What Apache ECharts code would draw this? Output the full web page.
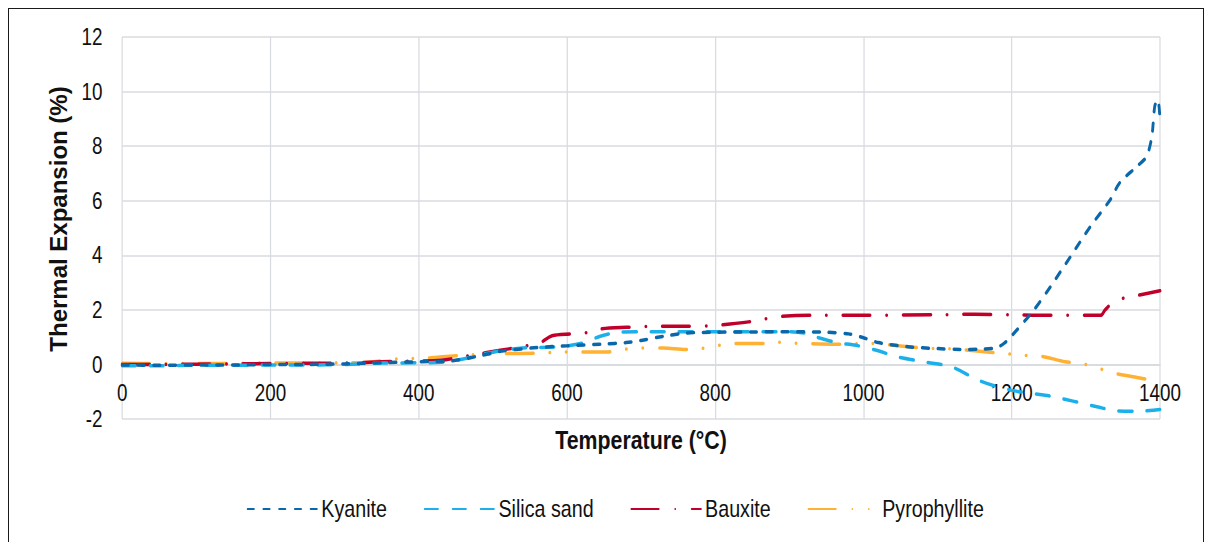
<!DOCTYPE html>
<html>
<head>
<meta charset="utf-8">
<script src="https://cdn.jsdelivr.net/npm/echarts@6/dist/echarts.min.js"></script>
<style>
  html, body { margin: 0; padding: 0; background: #fff; }
  #wrap { position: relative; width: 1210px; height: 542px; overflow: hidden; }
  #frame { position: absolute; left: 8px; top: 8px; width: 1196px; height: 560px;
           border: 1.5px solid #1a1a1a; box-sizing: border-box; }
  /* the chart is laid out wide and condensed horizontally, giving narrow lettering */
  #chart { position: absolute; left: 0; top: 0; width: 1476px; height: 542px;
           transform: scaleX(0.81978); transform-origin: 0 0; }
</style>
</head>
<body>
<div id="wrap">
  <div id="frame"></div>
  <div id="chart"></div>
</div>
<script>
// Temperature (°C) vs. thermal expansion (%) for four refractory raw materials
const seriesNames = ['Kyanite', 'Silica sand', 'Bauxite', 'Pyrophyllite'];

const kyanite = [
  [0,-0.02],[50,-0.03],[100,-0.02],[150,-0.02],[200,0],[250,0],[300,0.02],[350,0.06],
  [400,0.1],[440,0.12],[480,0.3],[510,0.48],[560,0.62],[600,0.68],[650,0.75],[680,0.8],
  [700,0.88],[730,1.03],[760,1.15],[800,1.18],[850,1.19],[900,1.2],[950,1.18],[980,1.12],
  [1000,0.98],[1020,0.8],[1060,0.65],[1100,0.58],[1130,0.55],[1160,0.56],[1180,0.62],
  [1190,0.78],[1200,1.05],[1230,2.0],[1252,2.84],[1279,3.94],[1306,5.05],[1333,6.04],
  [1346,6.67],[1369,7.26],[1382,7.63],[1389,8.36],[1393,9.47],[1397,9.7],[1400,9.0]
];

const silicaSand = [
  [0,-0.05],[50,-0.05],[100,-0.03],[150,-0.03],[200,-0.02],[250,-0.02],[300,0],[350,0.05],
  [400,0.06],[430,0.08],[460,0.2],[500,0.45],[540,0.6],[590,0.65],[620,0.78],[645,1.03],
  [670,1.18],[700,1.2],[750,1.2],[800,1.2],[850,1.2],[900,1.2],[920,1.15],[937,1.0],
  [964,0.8],[990,0.7],[1020,0.5],[1045,0.28],[1085,0.08],[1120,-0.1],[1157,-0.6],
  [1200,-0.95],[1250,-1.15],[1315,-1.55],[1340,-1.7],[1370,-1.72],[1400,-1.65]
];

const bauxite = [
  [0,0],[50,0],[100,0.01],[150,0.02],[200,0.03],[250,0.04],[300,0.05],[350,0.1],
  [400,0.12],[430,0.15],[470,0.33],[510,0.52],[540,0.65],[564,0.8],[580,1.05],[605,1.12],
  [630,1.18],[645,1.3],[680,1.36],[720,1.4],[760,1.4],[790,1.41],[820,1.48],[845,1.56],
  [865,1.66],[890,1.76],[930,1.8],[1000,1.8],[1100,1.82],[1150,1.84],[1200,1.82],
  [1250,1.8],[1320,1.8],[1326,2.0],[1340,2.35],[1360,2.47],[1400,2.7]
];

const pyrophyllite = [
  [0,0.04],[50,0.03],[100,0.03],[150,0.04],[200,0.05],[250,0.05],[300,0.06],[330,0.07],
  [370,0.2],[410,0.23],[450,0.32],[490,0.37],[520,0.4],[555,0.41],[595,0.45],[656,0.46],
  [676,0.55],[700,0.6],[730,0.6],[760,0.55],[780,0.58],[805,0.7],[825,0.77],[865,0.77],
  [883,0.82],[905,0.78],[966,0.74],[1006,0.77],[1026,0.74],[1067,0.63],[1090,0.58],
  [1110,0.58],[1130,0.55],[1170,0.45],[1192,0.4],[1213,0.33],[1234,0.32],[1272,0.1],
  [1295,0.03],[1315,-0.12],[1335,-0.3],[1373,-0.5],[1400,-0.65]
];

const xTicks = { min: 0, max: 1400, interval: 200 };
const yTicks = { min: -2, max: 12, interval: 2 };
const xTitle = 'Temperature (°C)';
const yTitle = 'Thermal Expansion (%)';

const colors = ['#0a67aa', '#1bb0ea', '#c0002a', '#ffb133'];
const dashes = [
  [7.8, 11.4],                          // square dot
  [16.3, 17.8],                         // dash
  [33.5, 20, 0.1, 20],                  // long dash dot
  [33.5, 20, 0.1, 20, 0.1, 20]          // long dash dot dot
];

const condense = 0.81978;               // horizontal scale applied to #chart
const font = '"Liberation Sans", Arial, sans-serif';
const gridColor = '#d8dbe0';
const allData = [kyanite, silicaSand, bauxite, pyrophyllite];

const chart = echarts.init(document.getElementById('chart'), null, { renderer: 'svg' });

chart.setOption({
  animation: false,
  backgroundColor: 'transparent',
  grid: { left: 149, right: 61, top: 37, bottom: 123, containLabel: false },
  legend: {
    left: 296,
    top: 492,
    itemWidth: 85,
    itemHeight: 14,
    itemGap: 45,
    itemStyle: { opacity: 0 },
    textStyle: { fontFamily: font, fontSize: 24, color: '#111' },
    data: seriesNames
  },
  // vertical axis title: rotated text whose glyph height is stretched back
  // so the horizontal condensing leaves it at normal proportions
  graphic: [{
    type: 'text',
    x: 58 / condense,
    y: 219,
    rotation: Math.PI / 2,
    scaleY: 1 / condense,
    style: {
      text: yTitle,
      font: 'bold 24px ' + font,
      fill: '#111',
      align: 'center',
      verticalAlign: 'middle'
    }
  }],
  xAxis: {
    type: 'value',
    min: xTicks.min, max: xTicks.max, interval: xTicks.interval,
    offset: -54.6,
    name: xTitle,
    nameLocation: 'middle',
    nameGap: 62,
    nameTextStyle: { fontFamily: font, fontSize: 26, fontWeight: 'bold', color: '#111' },
    axisLine: { show: true, onZero: false, lineStyle: { color: gridColor, width: 2 } },
    axisTick: { show: false },
    axisLabel: { fontFamily: font, fontSize: 23, color: '#111', margin: 17,
                 formatter: v => String(v) },
    splitLine: { show: true, lineStyle: { color: gridColor, width: 1.5 } }
  },
  yAxis: {
    type: 'value',
    min: yTicks.min, max: yTicks.max, interval: yTicks.interval,
    axisLine: { show: false },
    axisTick: { show: false },
    axisLabel: { fontFamily: font, fontSize: 23, color: '#111', margin: 24 },
    splitLine: { show: true, lineStyle: { color: gridColor, width: 1.5 } }
  },
  series: seriesNames.map((name, i) => ({
    name: name,
    type: 'line',
    data: allData[i],
    smooth: 0.3,
    symbol: 'none',
    showSymbol: false,
    clip: false,
    z: 10 - i,
    itemStyle: { color: colors[i] },
    lineStyle: { color: colors[i], width: 3.5, type: dashes[i], cap: 'round', join: 'round' }
  }))
});
</script>
</body>
</html>
